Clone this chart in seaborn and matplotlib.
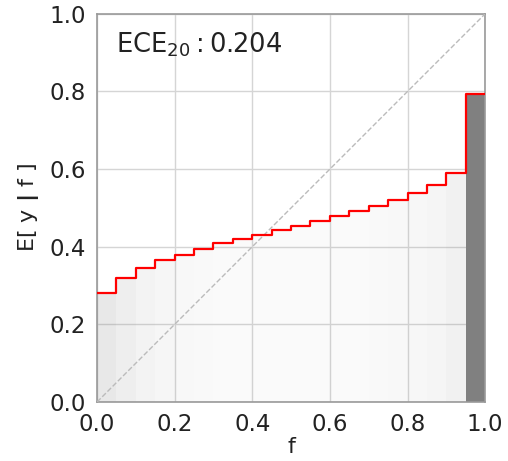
import numpy as np
import pandas as pd
import matplotlib
matplotlib.use("Agg")
import matplotlib.pyplot as plt
import seaborn as sns

# reliability diagram: 20 equal-width confidence bins
bin_edges = [i / 20 for i in range(21)]
accuracy = [0.282, 0.319, 0.346, 0.367, 0.379, 0.395, 0.409, 0.419, 0.430, 0.442,
            0.454, 0.466, 0.478, 0.492, 0.505, 0.521, 0.538, 0.560, 0.590, 0.794]
# relative number of samples per bin (shading of the bars)
bin_counts = [180, 130, 90, 68, 52, 45, 40, 38, 36, 35,
              35, 36, 38, 40, 44, 50, 58, 75, 110, 1000]
ece_label = r"ECE$_{20}:$0.204"

sns.set_theme(style="whitegrid")
plt.rcParams["font.family"] = ["DejaVu Sans"]

fig = plt.figure(figsize=(5.08, 4.61), dpi=100)
ax = fig.add_axes([0.191, 0.128, 0.764, 0.842])

left = np.array(bin_edges[:-1])
width = np.diff(bin_edges)
counts = np.array(bin_counts, dtype=float)
alphas = counts / counts.max()
colors = [(0.5, 0.5, 0.5, a) for a in alphas]
ax.bar(left, accuracy, width=width, align="edge", color=colors, linewidth=0, zorder=2)

# perfect calibration diagonal
ax.plot([0, 1], [0, 1], ls="--", color="#bbbbbb", lw=1, zorder=3)

step_df = pd.DataFrame({"f": bin_edges, "acc": accuracy + [accuracy[-1]]})
sns.lineplot(data=step_df, x="f", y="acc", drawstyle="steps-post",
             color="red", lw=1.6, ax=ax, zorder=4)

ax.set_xlim(0, 1)
ax.set_ylim(0, 1)
ticks = np.arange(0, 1.01, 0.2)
ax.set_xticks(ticks)
ax.set_yticks(ticks)
ax.set_xticklabels([f"{t:.1f}" for t in ticks])
ax.set_yticklabels([f"{t:.1f}" for t in ticks])
ax.tick_params(labelsize=16.5, colors="#222222", pad=2)
ax.set_xlabel("f", fontsize=16, color="#222222", labelpad=1)
ax.set_ylabel(r"E[ y $\mathbf{|}$ f ]", fontsize=16, color="#222222", labelpad=6)
ax.grid(True, color="#d5d5d5", lw=1, zorder=0)
ax.set_axisbelow(True)
for s in ax.spines.values():
    s.set_color("#999999")
    s.set_linewidth(1.2)

ax.text(0.05, 0.92, ece_label, transform=ax.transAxes, fontsize=18.5,
        color="#222222", va="center", ha="left")

fig.savefig("out.png", dpi=100)
